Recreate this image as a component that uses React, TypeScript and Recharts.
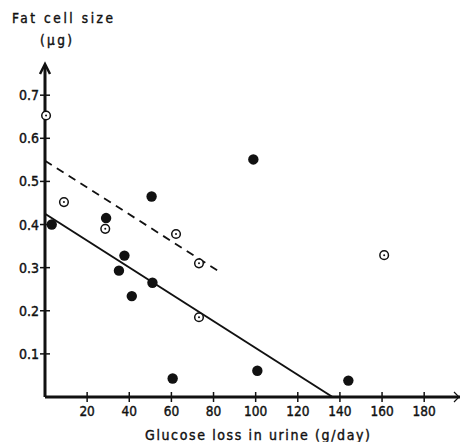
import React from 'react';
import { ScatterChart, Scatter, XAxis, YAxis, ReferenceLine, ReferenceDot } from 'recharts';

const filledPoints = [
  { x: 3.2, y: 0.4 },
  { x: 29, y: 0.415 },
  { x: 50.6, y: 0.465 },
  { x: 37.7, y: 0.328 },
  { x: 35.1, y: 0.293 },
  { x: 41.2, y: 0.234 },
  { x: 51, y: 0.265 },
  { x: 60.6, y: 0.043 },
  { x: 98.9, y: 0.551 },
  { x: 100.8, y: 0.061 },
  { x: 144, y: 0.038 },
];

const openPoints = [
  { x: 0.5, y: 0.653 },
  { x: 9, y: 0.452 },
  { x: 28.6, y: 0.39 },
  { x: 62.2, y: 0.378 },
  { x: 73.1, y: 0.31 },
  { x: 73.1, y: 0.185 },
  { x: 161, y: 0.329 },
];

const solidFit = [
  { x: 0, y: 0.425 },
  { x: 136.5, y: 0 },
];

const dashedFit = [
  { x: 0, y: 0.548 },
  { x: 83, y: 0.29 },
];

const xTicks = [20, 40, 60, 80, 100, 120, 140, 160, 180];
const yTicks = [0.1, 0.2, 0.3, 0.4, 0.5, 0.6, 0.7];
const xMax = 197;
const yMax = 0.77;

const INK = '#111';
const FONT = '"DejaVu Sans Condensed", "DejaVu Sans", sans-serif';
const TEXT_STROKE = 0.4;

const YTick = (props: any) => {
  const { x, y, payload } = props;
  return (
    <g>
      <line x1={x - 5} x2={x + 5} y1={y} y2={y} stroke={INK} strokeWidth={1.5} />
      <text
        x={x - 6}
        y={y}
        dy="0.36em"
        textAnchor="end"
        fontFamily={FONT}
        fontSize={14}
        fill={INK}
        stroke={INK}
        strokeWidth={TEXT_STROKE}
      >
        {Number(payload.value).toFixed(1)}
      </text>
    </g>
  );
};

const XTick = (props: any) => {
  const { x, y, payload } = props;
  return (
    <g>
      <line x1={x} x2={x} y1={y - 5} y2={y + 5} stroke={INK} strokeWidth={1.5} />
      <text
        x={x}
        y={y + 19}
        textAnchor="middle"
        fontFamily={FONT}
        fontSize={13.5}
        fill={INK}
        stroke={INK}
        strokeWidth={TEXT_STROKE}
      >
        {payload.value}
      </text>
    </g>
  );
};

const FilledDot = (props: any) => {
  const { cx, cy } = props;
  return <circle cx={cx} cy={cy} r={5.2} fill={INK} />;
};

const OpenDot = (props: any) => {
  const { cx, cy } = props;
  return (
    <g>
      <circle cx={cx} cy={cy} r={4.3} fill="#fff" stroke={INK} strokeWidth={1.5} />
      <circle cx={cx} cy={cy} r={1} fill={INK} />
    </g>
  );
};

const UpArrow = (props: any) => {
  const { cx, cy } = props;
  return (
    <path
      d={`M${cx - 5},${cy + 9} L${cx},${cy - 1} L${cx + 5},${cy + 9}`}
      fill="none"
      stroke={INK}
      strokeWidth={2.5}
    />
  );
};

const RightArrow = (props: any) => {
  const { cx, cy } = props;
  return (
    <path
      d={`M${cx - 6},${cy - 5} L${cx - 1},${cy} L${cx - 6},${cy + 5}`}
      fill="none"
      stroke={INK}
      strokeWidth={1.2}
    />
  );
};

const XLabel = () => (
  <text
    x={145}
    y={440}
    textLength={225}
    lengthAdjust="spacing"
    fontFamily={FONT}
    fontSize={14}
    fill={INK}
    stroke={INK}
    strokeWidth={TEXT_STROKE}
  >
    Glucose loss in urine (g/day)
  </text>
);

const YLabel = () => (
  <g>
    <text
      x={12}
      y={23}
      textLength={101}
      lengthAdjust="spacing"
      fontFamily={FONT}
      fontSize={13.5}
      fill={INK}
      stroke={INK}
      strokeWidth={TEXT_STROKE}
    >
      Fat cell size
    </text>
    <text
      x={40}
      y={45}
      textLength={32}
      lengthAdjust="spacing"
      fontFamily={FONT}
      fontSize={13.5}
      fill={INK}
      stroke={INK}
      strokeWidth={TEXT_STROKE}
    >
      (µg)
    </text>
  </g>
);

export default function App() {
  return (
    <div style={{ position: 'absolute', left: 0, top: 0, width: 460, height: 442, background: '#fff' }}>
      <ScatterChart width={460} height={442} margin={{ top: 65, right: 0, bottom: 15, left: 0 }}>
        <XAxis
          type="number"
          dataKey="x"
          domain={[0, xMax]}
          ticks={xTicks}
          tick={<XTick />}
          tickLine={false}
          tickSize={0}
          tickMargin={0}
          axisLine={{ stroke: INK, strokeWidth: 3 }}
          height={30}
          interval={0}
          label={{ content: <XLabel /> } as any}
        />
        <YAxis
          type="number"
          dataKey="y"
          domain={[0, yMax]}
          ticks={yTicks}
          tick={<YTick />}
          tickLine={false}
          tickSize={0}
          tickMargin={0}
          axisLine={{ stroke: INK, strokeWidth: 3 }}
          width={45}
          interval={0}
          label={{ content: <YLabel /> } as any}
        />
        <ReferenceLine segment={solidFit} stroke={INK} strokeWidth={2} ifOverflow="visible" />
        <ReferenceLine
          segment={dashedFit}
          stroke={INK}
          strokeWidth={1.8}
          strokeDasharray="8 6"
          ifOverflow="visible"
        />
        <Scatter data={openPoints} shape={<OpenDot />} isAnimationActive={false} />
        <Scatter data={filledPoints} shape={<FilledDot />} isAnimationActive={false} />
        <ReferenceDot x={0} y={yMax} shape={<UpArrow />} ifOverflow="visible" />
        <ReferenceDot x={xMax} y={0} shape={<RightArrow />} ifOverflow="visible" />
      </ScatterChart>
    </div>
  );
}
